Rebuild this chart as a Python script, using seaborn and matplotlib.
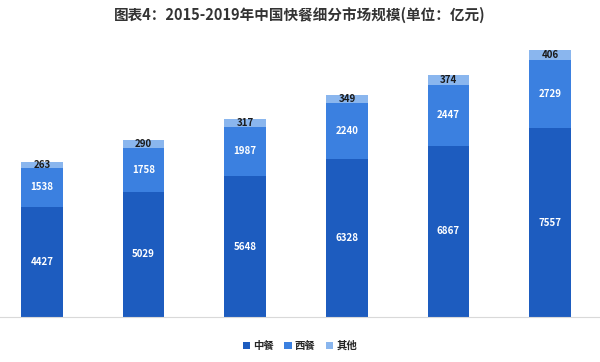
import matplotlib
matplotlib.use("Agg")
import matplotlib.pyplot as plt
import seaborn as sns
import pandas as pd
import numpy as np
from matplotlib.patches import Patch

years = ["2014", "2015", "2016", "2017", "2018", "2019"]
chinese = [4427, 5029, 5648, 6328, 6867, 7557]
western = [1538, 1758, 1987, 2240, 2447, 2729]
other = [263, 290, 317, 349, 374, 406]
series_names = ["中餐", "西餐", "其他"]
colors = ["#1d5cbf", "#3b80e0", "#8ab6ee"]

sns.set_theme(style="white")
plt.rcParams['font.family'] = ['Noto Sans CJK SC', 'DejaVu Sans']

c = np.array(chinese)
w = np.array(western)
o = np.array(other)
df = pd.DataFrame({"year": years, "c": c, "cw": c + w, "total": c + w + o})

fig = plt.figure(figsize=(6, 3.62), dpi=100)
ax = fig.add_axes([0.0, 0.124, 1.0, 0.765])

for col, colr in [("total", colors[2]), ("cw", colors[1]), ("c", colors[0])]:
    sns.barplot(data=df, x="year", y=col, color=colr, width=0.41,
                saturation=1, ax=ax, edgecolor="none", linewidth=0)

for i in range(len(years)):
    ax.text(i, c[i] / 2, str(c[i]), ha="center", va="center", color="white",
            fontsize=7, fontweight="bold")
    ax.text(i, c[i] + w[i] / 2, str(w[i]), ha="center", va="center", color="white",
            fontsize=7, fontweight="bold")
    ax.text(i, c[i] + w[i] + o[i] / 2, str(o[i]), ha="center", va="center",
            color="#1a1a1a", fontsize=7, fontweight="bold")

ax.set_xlim(-0.413, 5.49)
ax.set_ylim(0, 11093)
ax.set_xlabel("")
ax.set_ylabel("")
ax.set_xticks([])
ax.set_yticks([])
for s in ["top", "left", "right"]:
    ax.spines[s].set_visible(False)
ax.spines["bottom"].set_color("#d9d9d9")
ax.spines["bottom"].set_linewidth(0.8)

fig.text(0.5, 0.958, "图表4：2015-2019年中国快餐细分市场规模(单位：亿元)", ha="center",
         va="center", fontsize=10.5, fontweight="bold", color="#333333")

handles = [Patch(facecolor=colors[k], edgecolor="none") for k in range(3)]
fig.legend(handles, series_names, loc="center", bbox_to_anchor=(0.5, 0.044),
           ncol=3, frameon=False, fontsize=7.5, handlelength=0.7, handleheight=0.7,
           handletextpad=0.3, columnspacing=1.0, prop={"weight": "bold", "size": 7.5})

fig.savefig("out.png", dpi=100)
